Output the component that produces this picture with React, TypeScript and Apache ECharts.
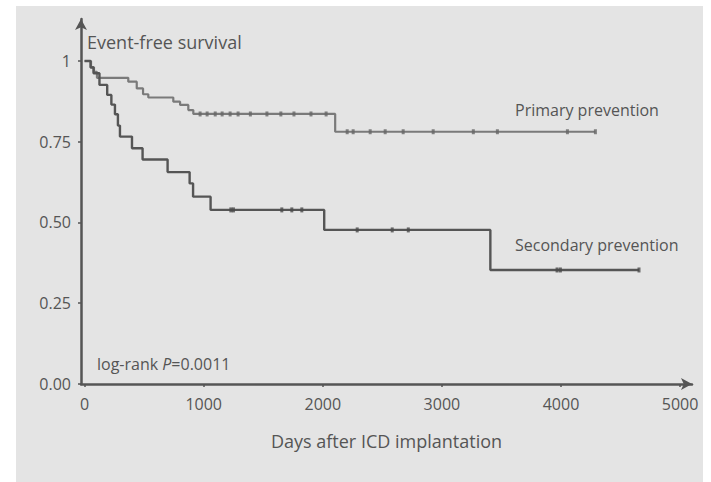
import React, { useEffect, useRef } from "react";
import * as echarts from "echarts";

// Kaplan–Meier step data (day of event, survival after event)
const primaryDays = [0, 54, 79, 104, 367, 438, 491, 535, 745, 802, 871, 913, 2104, 4289];
const primarySurv = [1.0, 0.981, 0.966, 0.948, 0.936, 0.915, 0.897, 0.887, 0.874, 0.864, 0.848, 0.836, 0.781, 0.781];

const secondaryDays = [0, 50, 75, 125, 190, 225, 255, 280, 297, 398, 487, 697, 882, 911, 1058, 2012, 3407, 4655];
const secondarySurv = [1.0, 0.98, 0.962, 0.926, 0.895, 0.865, 0.835, 0.8, 0.766, 0.73, 0.695, 0.656, 0.621, 0.58, 0.539, 0.477, 0.353, 0.353];

// censored observations (days)
const primaryCensorDays = [970, 1029, 1097, 1155, 1222, 1289, 1392, 1531, 1648, 1758, 1901, 2028, 2205, 2255, 2398, 2524, 2675, 2927, 3264, 3466, 4054, 4289];
const secondaryCensorDays = [1228, 1250, 1656, 1740, 1824, 2289, 2583, 2718, 3967, 3995, 4655];

const xTickValues = [0, 1000, 2000, 3000, 4000, 5000];
const yTickValues = [0, 0.25, 0.5, 0.75, 1];
const yTickLabels = ["0.00", "0.25", "0.50", "0.75", "1"];

const FONT = "'Open Sans', 'Noto Sans', sans-serif";
const TEXT = "#555";

function stepLookup(days: number[], surv: number[], d: number): number {
  let v = surv[0];
  for (let i = 0; i < days.length; i++) {
    if (days[i] <= d) v = surv[i];
  }
  return v;
}

export default function App() {
  const ref = useRef<HTMLDivElement>(null);
  useEffect(() => {
    if (!ref.current) return;
    const chart = echarts.init(ref.current, null, { renderer: "svg" });
    const primaryLine = primaryDays.map((d, i) => [d, primarySurv[i]]);
    const secondaryLine = secondaryDays.map((d, i) => [d, secondarySurv[i]]);
    const primaryCens = primaryCensorDays.map((d) => [d, stepLookup(primaryDays, primarySurv, d)]);
    const secondaryCens = secondaryCensorDays.map((d) => [d, stepLookup(secondaryDays, secondarySurv, d)]);

    chart.setOption({
      animation: false,
      backgroundColor: "#ffffff",
      grid: { left: 81, right: 19, top: 19, bottom: 98, containLabel: false },
      xAxis: {
        type: "value",
        min: -30,
        max: 5100,
        name: "Days after ICD implantation",
        nameLocation: "middle",
        nameGap: 48,
        nameTextStyle: { fontFamily: FONT, fontSize: 18, color: TEXT },
        axisLine: {
          onZero: false,
          symbol: ["none", "arrow"],
          symbolSize: [9, 11],
          lineStyle: { color: "#555", width: 2.5 },
        },
        axisTick: { show: true, length: 3, customValues: xTickValues, lineStyle: { color: "#555", width: 1.5 } },
        axisLabel: {
          customValues: xTickValues,
          margin: 12,
          fontFamily: FONT,
          fontSize: 16,
          color: TEXT,
          formatter: (v: number) => String(Math.round(v)),
        },
        splitLine: { show: false },
      },
      yAxis: {
        type: "value",
        min: 0,
        max: 1.13,
        axisLine: {
          onZero: false,
          symbol: ["none", "arrow"],
          symbolSize: [9, 11],
          lineStyle: { color: "#555", width: 2.5 },
        },
        axisTick: { show: true, length: 3, customValues: yTickValues, lineStyle: { color: "#555", width: 1.5 } },
        axisLabel: {
          customValues: yTickValues,
          margin: 10,
          fontFamily: FONT,
          fontSize: 16,
          color: TEXT,
          formatter: (v: number) => {
            const idx = yTickValues.findIndex((t) => Math.abs(t - v) < 1e-6);
            return idx >= 0 ? yTickLabels[idx] : "";
          },
        },
        splitLine: { show: false },
      },
      series: [
        {
          name: "Primary prevention",
          type: "line",
          step: "end",
          data: primaryLine,
          showSymbol: false,
          lineStyle: { color: "#7a7a7a", width: 2.2 },
          z: 3,
        },
        {
          name: "Secondary prevention",
          type: "line",
          step: "end",
          data: secondaryLine,
          showSymbol: false,
          lineStyle: { color: "#555", width: 2.4 },
          z: 4,
        },
        {
          type: "scatter",
          data: primaryCens,
          symbol: "rect",
          symbolSize: [3, 5],
          itemStyle: { color: "#666" },
          z: 5,
        },
        {
          type: "scatter",
          data: secondaryCens,
          symbol: "rect",
          symbolSize: [3, 5],
          itemStyle: { color: "#4a4a4a" },
          z: 5,
        },
      ],
      graphic: [
        {
          type: "rect",
          z: -10,
          silent: true,
          shape: { x: 16, y: 6, width: 687, height: 476 },
          style: { fill: "#e4e4e4" },
        },
        {
          type: "text",
          z: 10,
          x: 87,
          y: 42,
          style: { text: "Event-free survival", fill: TEXT, fontFamily: FONT, fontSize: 18, textVerticalAlign: "middle" },
        },
        {
          type: "text",
          z: 10,
          x: 515,
          y: 110,
          style: { text: "Primary prevention", fill: TEXT, fontFamily: FONT, fontSize: 16, textVerticalAlign: "middle" },
        },
        {
          type: "text",
          z: 10,
          x: 515,
          y: 245,
          style: { text: "Secondary prevention", fill: TEXT, fontFamily: FONT, fontSize: 16, textVerticalAlign: "middle" },
        },
        {
          type: "text",
          z: 10,
          x: 97,
          y: 364,
          style: {
            text: "{n|log-rank }{i|P}{n|=0.0011}",
            fill: TEXT,
            textVerticalAlign: "middle",
            rich: {
              n: { fontFamily: FONT, fontSize: 16, fill: TEXT, color: TEXT },
              i: { fontFamily: FONT, fontSize: 16, fontStyle: "italic", fill: TEXT, color: TEXT },
            },
          },
        },
      ],
    });
    return () => chart.dispose();
  }, []);
  return (
    <div
      ref={ref}
      style={{ position: "fixed", left: 0, top: 0, width: 711, height: 482, background: "#fff" }}
    />
  );
}
